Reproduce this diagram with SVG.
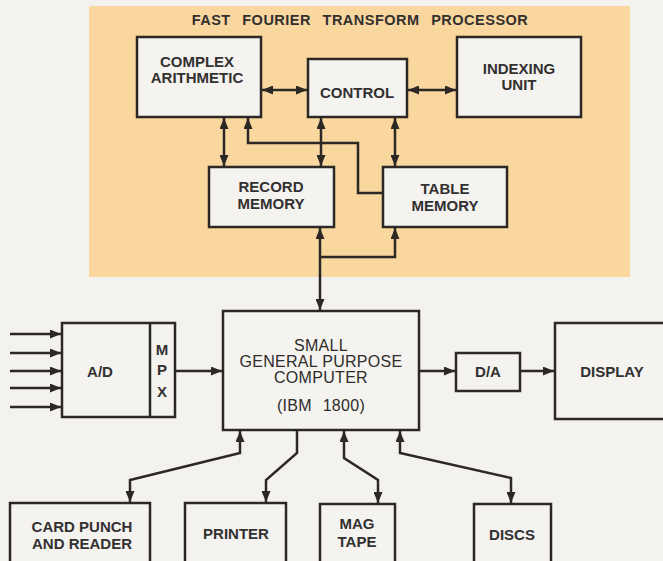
<svg xmlns="http://www.w3.org/2000/svg" width="663" height="561" viewBox="0 0 663 561">
<defs>
<marker id="ah" viewBox="0 0 11 9" refX="11" refY="4.5" markerWidth="11" markerHeight="9" markerUnits="userSpaceOnUse" orient="auto-start-reverse">
<path d="M0,0 L11,4.5 L0,9 z" fill="#2b2826"/>
</marker>
<style>
.box{fill:#f4f3f0;stroke:#2b2826;stroke-width:2.5}
.t{font-family:"Liberation Sans",Arial,sans-serif;font-size:15px;font-weight:bold;fill:#333030;text-anchor:middle}
.tc{font-family:"Liberation Sans",Arial,sans-serif;font-size:16px;fill:#2f2c2a;text-anchor:middle;letter-spacing:0.3px}
.c{fill:none;stroke:#2b2826;stroke-width:2.5}
.a2{marker-start:url(#ah);marker-end:url(#ah)}
.a1{marker-end:url(#ah)}
</style>
</defs>
<rect x="0" y="0" width="663" height="561" fill="#f3f2ee"/>
<rect id="fft-panel" x="89" y="6" width="541" height="271" fill="#f9d79e"/>
<text class="t" x="360" y="25" style="font-size:14.5px;word-spacing:7px;letter-spacing:0.5px">FAST FOURIER TRANSFORM PROCESSOR</text>

<g id="complex-arithmetic"><rect class="box" x="137" y="37" width="124" height="80"/><text class="t" x="197" y="67">COMPLEX</text><text class="t" x="197" y="83">ARITHMETIC</text></g>
<g id="control"><rect class="box" x="308" y="59" width="99" height="58"/><text class="t" x="357" y="98">CONTROL</text></g>
<g id="indexing-unit"><rect class="box" x="457" y="37" width="124" height="80"/><text class="t" x="519" y="74">INDEXING</text><text class="t" x="519" y="90">UNIT</text></g>
<g id="record-memory"><rect class="box" x="209" y="167" width="125" height="60"/><text class="t" x="271" y="192">RECORD</text><text class="t" x="271" y="209">MEMORY</text></g>
<g id="table-memory"><rect class="box" x="383" y="167" width="124" height="60"/><text class="t" x="445" y="194">TABLE</text><text class="t" x="445" y="211">MEMORY</text></g>

<g id="computer"><rect class="box" x="223" y="311" width="196" height="119"/><text class="tc" x="321" y="351">SMALL</text><text class="tc" x="321" y="367">GENERAL PURPOSE</text><text class="tc" x="321" y="383">COMPUTER</text><text class="tc" x="321" y="411" style="word-spacing:6px">(IBM 1800)</text></g>
<g id="ad-mpx"><rect class="box" x="62" y="323" width="113" height="94"/><line x1="150" y1="323" x2="150" y2="417" stroke="#2b2826" stroke-width="2.5"/><text class="t" x="100" y="377">A/D</text><text class="t" x="162" y="355">M</text><text class="t" x="162" y="375">P</text><text class="t" x="162" y="397">X</text></g>
<g id="da"><rect class="box" x="456" y="353" width="64" height="38"/><text class="t" x="488" y="377">D/A</text></g>
<g id="display"><rect class="box" x="555" y="323" width="120" height="96"/><text class="t" x="612" y="377">DISPLAY</text></g>
<g id="card-punch"><rect class="box" x="10" y="503" width="140" height="70"/><text class="t" x="82" y="532">CARD PUNCH</text><text class="t" x="82" y="549">AND READER</text></g>
<g id="printer"><rect class="box" x="185" y="503" width="101" height="70"/><text class="t" x="236" y="539">PRINTER</text></g>
<g id="mag-tape"><rect class="box" x="320" y="504" width="75" height="70"/><text class="t" x="357" y="529">MAG</text><text class="t" x="357" y="547">TAPE</text></g>
<g id="discs"><rect class="box" x="474" y="504" width="77" height="70"/><text class="t" x="512" y="540">DISCS</text></g>

<g id="connectors">
<line class="c a2" x1="262" y1="90" x2="307" y2="90"/>
<line class="c a2" x1="408" y1="90" x2="456" y2="90"/>
<line class="c a2" x1="224" y1="118" x2="224" y2="166"/>
<polyline class="c a1" points="383,193 358,193 358,143 248,143 248,118"/>
<line class="c a2" x1="321" y1="118" x2="321" y2="166"/>
<line class="c a2" x1="395" y1="118" x2="395" y2="166"/>
<line class="c a2" x1="320" y1="228" x2="320" y2="310"/>
<polyline class="c a1" points="320,257 395,257 395,228"/>
<line class="c a1" x1="10" y1="334" x2="61" y2="334"/>
<line class="c a1" x1="10" y1="353" x2="61" y2="353"/>
<line class="c a1" x1="10" y1="371" x2="61" y2="371"/>
<line class="c a1" x1="10" y1="388" x2="61" y2="388"/>
<line class="c a1" x1="10" y1="407" x2="61" y2="407"/>
<line class="c a1" x1="175" y1="371" x2="222" y2="371"/>
<line class="c a1" x1="419" y1="371" x2="455" y2="371"/>
<line class="c a1" x1="520" y1="371" x2="554" y2="371"/>
<polyline class="c a2" points="240,431 240,453 130,480 130,502"/>
<polyline class="c a1" points="297,430 297,453 266,480 266,502"/>
<polyline class="c a2" points="344,431 344,458 378,480 378,503"/>
<polyline class="c a2" points="400,431 400,453 511,478 511,503"/>
</g>
</svg>
